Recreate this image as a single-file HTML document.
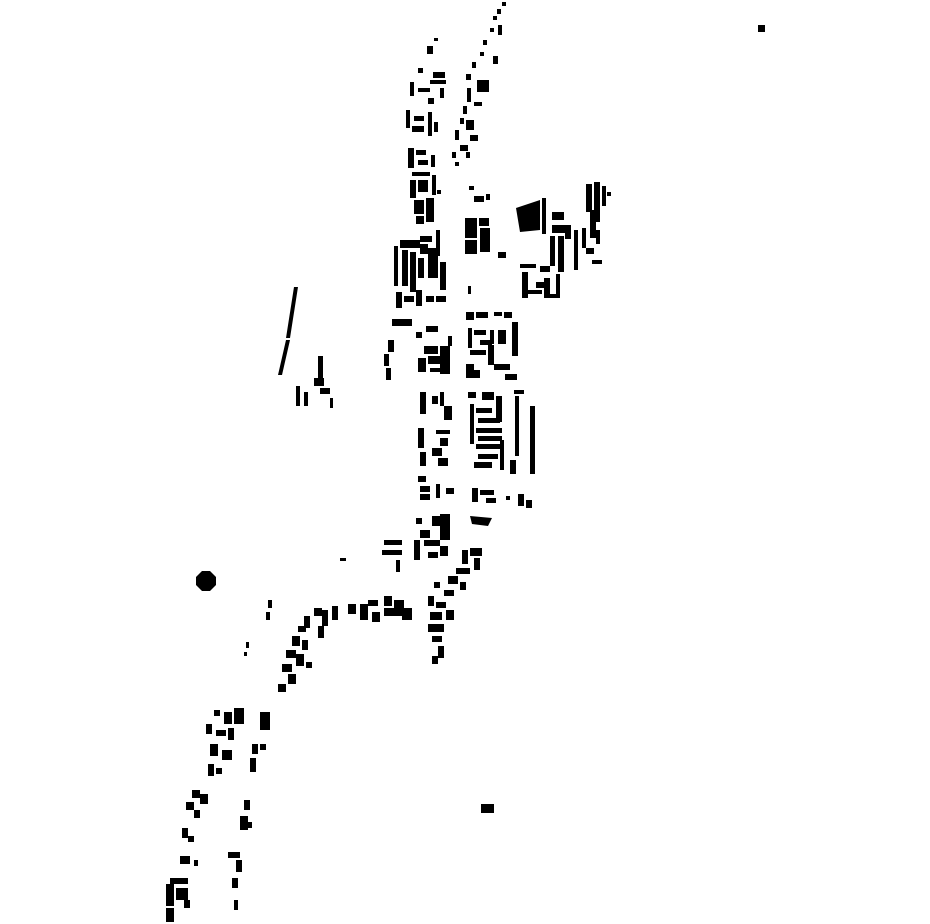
<!DOCTYPE html>
<html><head><style>html,body{margin:0;padding:0;background:#fff}svg{display:block}</style></head>
<body>
<svg width="930" height="924" viewBox="0 0 930 924" xmlns="http://www.w3.org/2000/svg" fill="#000">
<rect x="758" y="25" width="7" height="7"/>
<polygon points="202,571 210,571 216,577 216,585 210,591 202,591 196,585 196,577"/>
<rect x="481" y="804" width="13" height="9"/>
<!-- top chain -->
<rect x="502" y="2" width="4" height="4"/><rect x="497" y="9" width="4" height="5"/><rect x="493" y="16" width="4" height="4"/>
<rect x="498" y="25" width="4" height="10"/><rect x="490" y="28" width="4" height="4"/><rect x="483" y="40" width="4" height="5"/>
<rect x="493" y="56" width="5" height="8"/><rect x="480" y="52" width="4" height="4"/><rect x="472" y="62" width="4" height="6"/>
<rect x="466" y="74" width="5" height="6"/><rect x="477" y="80" width="12" height="12"/><rect x="467" y="88" width="4" height="14"/>
<rect x="463" y="106" width="4" height="8"/><rect x="474" y="102" width="8" height="4"/><rect x="460" y="118" width="4" height="6"/>
<rect x="466" y="120" width="8" height="10"/><rect x="455" y="130" width="4" height="10"/><rect x="470" y="135" width="8" height="6"/>
<rect x="460" y="145" width="8" height="6"/><rect x="452" y="152" width="4" height="6"/><rect x="466" y="152" width="4" height="6"/>
<rect x="455" y="162" width="4" height="4"/>
<!-- left column top -->
<rect x="427" y="46" width="6" height="8"/><rect x="434" y="38" width="4" height="3"/><rect x="418" y="68" width="5" height="5"/>
<rect x="433" y="72" width="12" height="6"/><rect x="430" y="80" width="16" height="4"/><rect x="410" y="82" width="4" height="14"/>
<rect x="418" y="88" width="12" height="4"/><rect x="440" y="88" width="4" height="10"/><rect x="428" y="98" width="6" height="6"/>
<rect x="406" y="110" width="4" height="18"/><rect x="414" y="116" width="10" height="5"/><rect x="428" y="112" width="4" height="24"/>
<rect x="412" y="126" width="12" height="6"/><rect x="434" y="122" width="4" height="10"/><rect x="408" y="148" width="6" height="20"/>
<rect x="416" y="150" width="10" height="5"/><rect x="418" y="160" width="10" height="5"/><rect x="431" y="155" width="4" height="12"/>
<rect x="412" y="172" width="18" height="4"/><rect x="410" y="180" width="6" height="18"/><rect x="418" y="180" width="10" height="12"/>
<rect x="432" y="175" width="4" height="20"/><rect x="437" y="190" width="4" height="4"/><rect x="414" y="200" width="10" height="14"/>
<rect x="426" y="198" width="8" height="24"/><rect x="416" y="216" width="8" height="8"/>
<!-- block 395-445 240-310 -->
<rect x="400" y="240" width="20" height="8"/><rect x="394" y="246" width="4" height="40"/><rect x="402" y="250" width="6" height="36"/>
<rect x="410" y="252" width="6" height="40"/><rect x="420" y="236" width="12" height="6"/><rect x="420" y="244" width="8" height="10"/>
<rect x="418" y="258" width="6" height="20"/><rect x="428" y="248" width="10" height="30"/><rect x="436" y="230" width="4" height="26"/>
<rect x="440" y="262" width="6" height="28"/><rect x="396" y="292" width="6" height="16"/><rect x="404" y="296" width="10" height="6"/>
<rect x="416" y="290" width="6" height="16"/><rect x="426" y="296" width="8" height="6"/><rect x="436" y="296" width="10" height="6"/>
<rect x="392" y="319" width="20" height="7"/>
<!-- central upper -->
<rect x="469" y="186" width="5" height="4"/><rect x="474" y="196" width="10" height="6"/><rect x="486" y="194" width="4" height="6"/>
<rect x="465" y="218" width="12" height="20"/><rect x="465" y="240" width="12" height="14"/><rect x="479" y="218" width="10" height="8"/>
<rect x="480" y="228" width="10" height="24"/><rect x="498" y="252" width="8" height="6"/><rect x="468" y="286" width="3" height="8"/>
<!-- right block -->
<polygon points="516,208 540,200 540,230 520,232"/><rect x="542" y="198" width="4" height="36"/><rect x="552" y="212" width="12" height="8"/>
<rect x="552" y="225" width="16" height="8"/><rect x="550" y="236" width="5" height="30"/><rect x="558" y="236" width="6" height="36"/>
<rect x="565" y="225" width="6" height="14"/><rect x="574" y="230" width="4" height="40"/><rect x="582" y="228" width="4" height="20"/>
<rect x="586" y="184" width="6" height="28"/><rect x="594" y="182" width="6" height="40"/><rect x="602" y="186" width="4" height="20"/>
<rect x="607" y="192" width="4" height="4"/><rect x="590" y="210" width="6" height="28"/><rect x="596" y="230" width="4" height="14"/>
<rect x="586" y="248" width="8" height="6"/><rect x="592" y="260" width="10" height="4"/><rect x="520" y="264" width="16" height="4"/>
<rect x="522" y="272" width="6" height="26"/><rect x="528" y="290" width="14" height="4"/><rect x="536" y="282" width="8" height="6"/>
<rect x="544" y="278" width="6" height="20"/><rect x="546" y="294" width="14" height="4"/><rect x="556" y="274" width="4" height="20"/>
<rect x="540" y="266" width="10" height="6"/>
<!-- middle rows -->
<rect x="466" y="312" width="8" height="8"/><rect x="476" y="312" width="12" height="6"/><rect x="494" y="312" width="8" height="4"/>
<rect x="504" y="312" width="8" height="6"/><rect x="468" y="328" width="4" height="20"/><rect x="474" y="330" width="12" height="5"/>
<rect x="480" y="340" width="12" height="5"/><rect x="490" y="330" width="4" height="14"/><rect x="498" y="330" width="8" height="14"/>
<rect x="512" y="322" width="6" height="34"/><rect x="470" y="350" width="16" height="5"/><rect x="466" y="364" width="8" height="10"/>
<rect x="488" y="345" width="6" height="20"/><rect x="494" y="364" width="16" height="6"/><rect x="505" y="374" width="12" height="6"/>
<rect x="466" y="370" width="14" height="8"/><rect x="416" y="332" width="6" height="6"/><rect x="426" y="326" width="12" height="6"/>
<rect x="424" y="346" width="14" height="8"/><rect x="418" y="358" width="8" height="14"/><rect x="428" y="356" width="12" height="8"/>
<rect x="440" y="346" width="10" height="28"/><rect x="448" y="336" width="4" height="10"/><rect x="430" y="368" width="12" height="4"/>
<rect x="388" y="340" width="6" height="12"/><rect x="384" y="354" width="5" height="12"/><rect x="386" y="368" width="5" height="12"/>
<!-- 390-510 rows -->
<rect x="420" y="392" width="6" height="22"/><rect x="432" y="396" width="6" height="8"/><rect x="440" y="392" width="4" height="14"/>
<rect x="444" y="406" width="8" height="14"/><rect x="418" y="428" width="6" height="20"/><rect x="436" y="430" width="14" height="4"/>
<rect x="440" y="438" width="8" height="8"/><rect x="420" y="452" width="6" height="14"/><rect x="432" y="448" width="10" height="8"/>
<rect x="438" y="458" width="10" height="8"/><rect x="418" y="476" width="8" height="6"/><rect x="420" y="486" width="10" height="6"/>
<rect x="420" y="494" width="10" height="6"/><rect x="436" y="484" width="4" height="14"/><rect x="446" y="488" width="8" height="6"/>
<rect x="468" y="392" width="8" height="6"/><rect x="470" y="404" width="4" height="40"/><rect x="476" y="408" width="16" height="5"/>
<rect x="478" y="418" width="22" height="5"/><rect x="476" y="428" width="26" height="5"/><rect x="478" y="436" width="24" height="5"/>
<rect x="476" y="444" width="24" height="5"/><rect x="478" y="454" width="20" height="5"/><rect x="482" y="392" width="12" height="8"/>
<rect x="496" y="396" width="6" height="26"/><rect x="474" y="462" width="18" height="6"/><rect x="500" y="440" width="4" height="30"/>
<rect x="514" y="390" width="10" height="4"/><rect x="515" y="396" width="4" height="60"/><rect x="510" y="460" width="6" height="14"/>
<rect x="530" y="406" width="5" height="68"/><rect x="472" y="488" width="6" height="14"/><rect x="480" y="490" width="14" height="5"/>
<rect x="486" y="498" width="10" height="5"/><rect x="506" y="496" width="4" height="4"/><rect x="518" y="494" width="6" height="12"/>
<rect x="526" y="500" width="6" height="8"/><polygon points="470,516 492,518 488,526 472,524"/>
<!-- curve -->
<rect x="416" y="518" width="6" height="6"/><rect x="420" y="530" width="10" height="8"/><rect x="432" y="516" width="8" height="10"/>
<rect x="440" y="514" width="10" height="26"/><rect x="424" y="540" width="16" height="6"/><rect x="414" y="540" width="6" height="20"/>
<rect x="428" y="552" width="10" height="6"/><rect x="440" y="546" width="8" height="10"/><rect x="384" y="540" width="18" height="5"/>
<rect x="382" y="550" width="20" height="5"/><rect x="396" y="560" width="4" height="12"/><rect x="340" y="558" width="6" height="3"/>
<rect x="462" y="550" width="6" height="14"/><rect x="470" y="548" width="12" height="8"/><rect x="474" y="558" width="6" height="12"/>
<rect x="456" y="568" width="14" height="6"/><rect x="448" y="576" width="10" height="8"/><rect x="460" y="582" width="6" height="8"/>
<rect x="434" y="582" width="6" height="6"/><rect x="444" y="590" width="10" height="6"/><rect x="428" y="596" width="6" height="10"/>
<rect x="436" y="602" width="10" height="6"/><rect x="446" y="610" width="8" height="10"/><rect x="430" y="612" width="12" height="8"/>
<rect x="428" y="624" width="16" height="8"/><rect x="432" y="636" width="10" height="6"/><rect x="438" y="646" width="6" height="12"/>
<rect x="432" y="656" width="6" height="8"/>
<!-- street to left -->
<rect x="348" y="604" width="8" height="10"/><rect x="360" y="604" width="8" height="16"/><rect x="368" y="600" width="10" height="6"/>
<rect x="372" y="612" width="8" height="10"/><rect x="384" y="596" width="8" height="10"/><rect x="384" y="608" width="12" height="8"/>
<rect x="394" y="600" width="10" height="16"/><rect x="402" y="608" width="10" height="12"/><rect x="332" y="606" width="6" height="14"/>
<rect x="322" y="610" width="6" height="16"/><rect x="314" y="608" width="8" height="8"/><rect x="318" y="626" width="6" height="12"/>
<rect x="304" y="616" width="6" height="12"/><rect x="298" y="626" width="8" height="6"/><rect x="292" y="636" width="8" height="10"/>
<rect x="302" y="640" width="6" height="10"/><rect x="286" y="650" width="10" height="8"/><rect x="296" y="654" width="8" height="12"/>
<rect x="306" y="662" width="6" height="6"/><rect x="282" y="664" width="10" height="8"/><rect x="288" y="674" width="8" height="10"/>
<rect x="278" y="684" width="8" height="8"/><rect x="268" y="600" width="4" height="8"/><rect x="266" y="612" width="4" height="8"/>
<rect x="246" y="642" width="3" height="6"/><rect x="244" y="652" width="3" height="4"/>
<!-- lower-left column -->
<rect x="214" y="710" width="6" height="6"/><rect x="224" y="712" width="8" height="12"/><rect x="234" y="708" width="10" height="16"/>
<rect x="206" y="724" width="6" height="10"/><rect x="216" y="730" width="10" height="6"/><rect x="228" y="728" width="6" height="12"/>
<rect x="260" y="712" width="10" height="18"/><rect x="210" y="744" width="8" height="12"/><rect x="222" y="750" width="10" height="10"/>
<rect x="208" y="764" width="6" height="12"/><rect x="216" y="768" width="6" height="6"/><rect x="252" y="744" width="6" height="10"/>
<rect x="260" y="744" width="6" height="6"/><rect x="250" y="758" width="6" height="14"/><rect x="192" y="790" width="8" height="8"/>
<rect x="200" y="794" width="8" height="10"/><rect x="186" y="802" width="8" height="8"/><rect x="194" y="810" width="6" height="8"/>
<rect x="182" y="828" width="6" height="10"/><rect x="188" y="836" width="6" height="6"/><rect x="244" y="800" width="6" height="10"/>
<rect x="240" y="816" width="8" height="14"/><rect x="248" y="822" width="4" height="6"/><rect x="180" y="856" width="10" height="8"/>
<rect x="194" y="860" width="4" height="6"/><rect x="228" y="852" width="12" height="6"/><rect x="236" y="860" width="6" height="12"/>
<rect x="170" y="878" width="18" height="6"/><rect x="166" y="884" width="8" height="22"/><rect x="176" y="888" width="12" height="12"/>
<rect x="184" y="900" width="6" height="8"/><rect x="166" y="908" width="8" height="14"/><rect x="232" y="878" width="6" height="10"/>
<rect x="234" y="900" width="4" height="10"/>
<!-- west lines -->
<polygon points="294,287 298,287 290,338 286,338"/><polygon points="286,340 290,340 282,375 278,375"/>
<rect x="318" y="356" width="5" height="22"/><rect x="314" y="378" width="10" height="8"/><rect x="320" y="388" width="10" height="6"/>
<rect x="296" y="386" width="4" height="20"/><rect x="304" y="392" width="4" height="14"/><rect x="330" y="398" width="3" height="10"/>
</svg>
</body></html>
